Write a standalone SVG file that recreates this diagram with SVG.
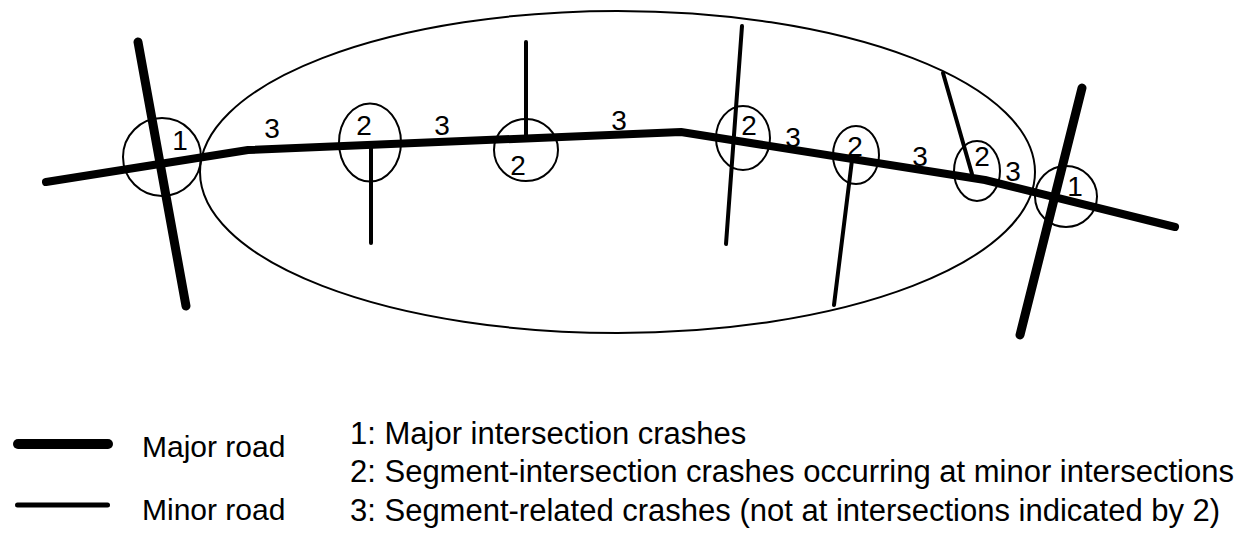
<svg xmlns="http://www.w3.org/2000/svg" width="1246" height="540" viewBox="0 0 1246 540">
<style>
.major{fill:none;stroke:#000;stroke-width:8;stroke-linecap:round;stroke-linejoin:round}
.cross{fill:none;stroke:#000;stroke-width:9;stroke-linecap:round}
.minor{fill:none;stroke:#000;stroke-width:4;stroke-linecap:round}
.ring{fill:none;stroke:#000;stroke-width:2}
.num{font-family:"Liberation Sans",Arial,sans-serif;font-size:28px;fill:#000;text-anchor:middle}
.leg{font-family:"Liberation Sans",Arial,sans-serif;font-size:30px;fill:#000}
.item{font-family:"Liberation Sans",Arial,sans-serif;font-size:31px;fill:#000}
</style>
<rect width="1246" height="540" fill="#fff"/>
<g id="corridor">
<ellipse cx="617.5" cy="172" rx="417.5" ry="161" class="ring"/>
</g>
<g id="connectors">
<polyline class="major" points="46,182 248,150 681,132 985,180 1175,227"/>
<line class="cross" x1="138" y1="42" x2="186" y2="306"/>
<line class="cross" x1="1082" y1="88" x2="1020" y2="335"/>
<line class="minor" x1="371" y1="148" x2="371" y2="243"/>
<line class="minor" x1="526" y1="42" x2="526" y2="138"/>
<line class="minor" x1="742" y1="26" x2="726" y2="244"/>
<line class="minor" x1="852" y1="160" x2="834" y2="305"/>
<line class="minor" x1="943" y1="73" x2="972" y2="174"/>
</g>
<g id="int-major-left"><ellipse cx="162" cy="157" rx="39" ry="39" class="ring"/><text class="num" x="180" y="150">1</text></g>
<g id="int-minor-1"><ellipse cx="370" cy="142.5" rx="31" ry="39" class="ring"/><text class="num" x="364" y="135">2</text></g>
<g id="int-minor-2"><ellipse cx="526" cy="150" rx="32" ry="31" class="ring"/><text class="num" x="518" y="175">2</text></g>
<g id="int-minor-3"><ellipse cx="743" cy="138" rx="27" ry="32" class="ring"/><text class="num" x="749" y="135">2</text></g>
<g id="int-minor-4"><ellipse cx="856" cy="155" rx="23" ry="29" class="ring"/><text class="num" x="855" y="156">2</text></g>
<g id="int-minor-5"><ellipse cx="977" cy="171" rx="23" ry="30" class="ring"/><text class="num" x="982" y="166">2</text></g>
<g id="int-major-right"><ellipse cx="1066" cy="196.5" rx="31" ry="30.5" class="ring"/><text class="num" x="1075" y="196">1</text></g>
<g id="segment-labels">
<text class="num" x="272" y="138">3</text>
<text class="num" x="442" y="135">3</text>
<text class="num" x="619" y="130">3</text>
<text class="num" x="793" y="147">3</text>
<text class="num" x="920" y="166">3</text>
<text class="num" x="1013" y="181">3</text>
</g>
<g id="legend">
<line class="major" style="stroke-width:10" x1="18" y1="444" x2="108" y2="444"/>
<text class="leg" x="142" y="457">Major road</text>
<line class="minor" style="stroke-width:5" x1="17.5" y1="505" x2="107.5" y2="505"/>
<text class="leg" x="142" y="520">Minor road</text>
<text class="item" x="350" y="444">1: Major intersection crashes</text>
<text class="item" x="350" y="482">2: Segment-intersection crashes occurring at minor intersections</text>
<text class="item" x="350" y="521">3: Segment-related crashes (not at intersections indicated by 2)</text>
</g>
</svg>
